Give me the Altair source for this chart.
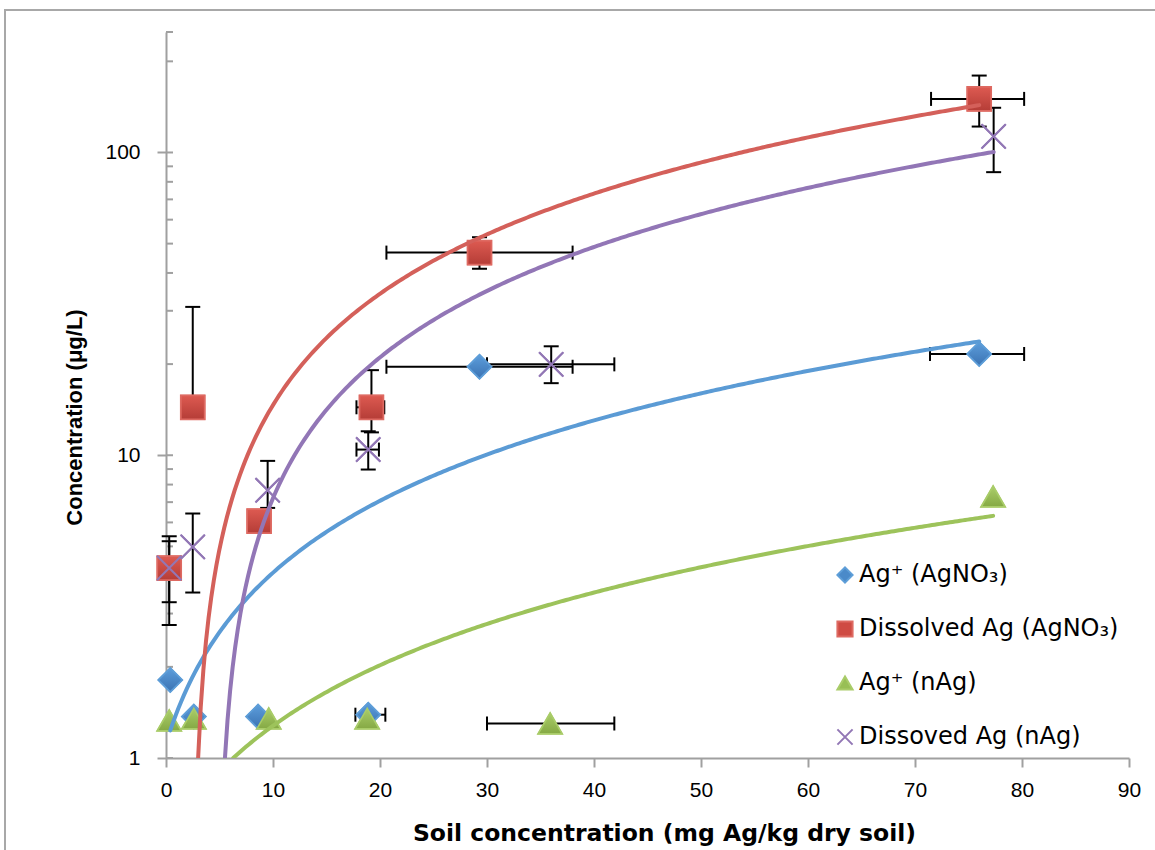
import altair as alt
import numpy as np
import pandas as pd

# ---------------- data ----------------
series_names = ["Ag⁺ (AgNO₃)", "Dissolved Ag (AgNO₃)", "Ag⁺ (nAg)", "Dissoved Ag (nAg)"]

# Ag+ (AgNO3)
blue_x = [0.4, 2.6, 8.6, 18.9, 29.3, 76.0]
blue_y = [1.81, 1.37, 1.37, 1.39, 19.6, 21.6]
blue_ylo = [None, None, None, None, None, None]
blue_yhi = [None, None, None, None, None, None]
blue_xlo = [None, None, None, 17.7, 20.6, 71.4]
blue_xhi = [None, None, None, 20.5, 38.0, 80.2]

# Dissolved Ag (AgNO3)
red_x = [0.3, 2.5, 8.7, 19.2, 29.3, 76.0]
red_y = [4.24, 14.4, 6.06, 14.4, 46.7, 150.3]
red_ylo = [3.27, None, 5.66, 11.9, 41.3, 121.8]
red_yhi = [5.2, 30.9, 6.46, 19.1, 52.5, 179.5]
red_xlo = [None, None, None, 17.8, 20.6, 71.5]
red_xhi = [None, None, None, 20.4, 38.0, 80.2]

# Ag+ (nAg)
green_x = [0.3, 2.6, 9.6, 18.8, 35.9, 77.3]
green_y = [1.33, 1.35, 1.35, 1.35, 1.30, 7.3]
green_ylo = [None, None, None, None, None, None]
green_yhi = [None, None, None, None, None, None]
green_xlo = [None, None, None, None, 30.0, None]
green_xhi = [None, None, None, None, 41.9, None]

# Dissoved Ag (nAg)
purple_x = [0.3, 2.5, 9.5, 18.9, 36.0, 77.35]
purple_y = [4.24, 4.98, 7.66, 10.44, 19.96, 113.0]
purple_ylo = [2.75, 3.52, 6.7, 8.97, 17.3, 86.1]
purple_yhi = [5.4, 6.42, 9.58, 12.0, 22.9, 140.5]
purple_xlo = [None, None, None, 17.8, 30.0, None]
purple_xhi = [None, None, None, 19.9, 41.9, None]

x_ticks = [0, 10, 20, 30, 40, 50, 60, 70, 80, 90]
y_major = [1, 10, 100]
y_minor = [1, 2, 3, 4, 5, 6, 7, 8, 9, 10, 20, 30, 40, 50, 60, 70, 80, 90, 100, 200, 250]

# ---------------- styles ----------------
fills = ["#4A8AC9", "#CF4B43", "#98BF55", "transparent"]
strokes = ["#5E9ED8", "#DE6A62", "#A9CC69", "#9277B5"]
grad_top = ["#5C9DDB", "#DD5A51", "#AACD6A", None]
grad_bot = ["#3B73B3", "#B53D37", "#85A944", None]
line_colors = ["#5B9BD5", "#D4605A", "#9DC35B", "#9276B6"]
shapes = ["diamond", "square", "triangle-up", "M-1,-1L1,1M1,-1L-1,1"]

all_series = [
    (blue_x, blue_y, blue_ylo, blue_yhi, blue_xlo, blue_xhi),
    (red_x, red_y, red_ylo, red_yhi, red_xlo, red_xhi),
    (green_x, green_y, green_ylo, green_yhi, green_xlo, green_xhi),
    (purple_x, purple_y, purple_ylo, purple_yhi, purple_xlo, purple_xhi),
]

pts, vseg, hseg, hcap, vcap, trend = [], [], [], [], [], []
k = 0
for name, (xs, ys, ylo, yhi, xlo, xhi) in zip(series_names, all_series):
    for i in range(len(xs)):
        pts.append({"series": name, "x": xs[i], "y": ys[i], "k": k})
        k += 1
        if ylo[i] is not None or yhi[i] is not None:
            lo = ylo[i] if ylo[i] is not None else ys[i]
            hi = yhi[i] if yhi[i] is not None else ys[i]
            vseg.append({"x": xs[i], "y1": lo, "y2": hi})
            for v in (ylo[i], yhi[i]):
                if v is not None:
                    hcap.append({"x": xs[i], "y": v})
        if xlo[i] is not None or xhi[i] is not None:
            lo = xlo[i] if xlo[i] is not None else xs[i]
            hi = xhi[i] if xhi[i] is not None else xs[i]
            hseg.append({"y": ys[i], "x1": lo, "x2": hi})
            for v in (xlo[i], xhi[i]):
                if v is not None:
                    vcap.append({"x": v, "y": ys[i]})
    # linear least-squares trendline (as Excel), drawn over the data's x range
    m, c = np.polyfit(xs, ys, 1)
    x0, x1 = min(xs), max(xs)
    if m * x0 + c < 1:
        x0 = max(x0, (1 - c) / m)
    grid = np.linspace(x0, x1, 300)
    for gx in grid:
        trend.append({"series": name, "x": float(gx), "y": float(max(m * gx + c, 1.0))})

pts = pd.DataFrame(pts)
vseg = pd.DataFrame(vseg)
hseg = pd.DataFrame(hseg)
hcap = pd.DataFrame(hcap)
vcap = pd.DataFrame(vcap)
trend = pd.DataFrame(trend)

FONT = "Liberation Sans"
WIDE = "DejaVu Sans"
AXC = "#A0A0A0"

xscale = alt.Scale(domain=[0, 90], nice=False, zero=False)
yscale = alt.Scale(type="log", domain=[1, 250], nice=False)

x_axis = alt.Axis(
    values=x_ticks, title="Soil concentration (mg Ag/kg dry soil)", grid=False,
    labelFlush=False, labelFont=FONT, labelFontSize=21, labelColor="black",
    labelPadding=12, tickSize=9, tickWidth=2, tickColor=AXC,
    domainColor=AXC, domainWidth=2, titleFont=WIDE, titleFontSize=23.5,
    titleFontWeight="bold", titleColor="black", titlePadding=21, titleX=498,
)
y_axis = alt.Axis(
    values=y_major, format="d", title="Concentration (μg/L)", grid=False,
    labelFont=FONT, labelFontSize=21, labelColor="black", labelPadding=17,
    tickSize=9, tickWidth=2, tickColor=AXC, domainColor=AXC, domainWidth=2,
    titleFont=FONT, titleFontSize=22, titleFontWeight="bold", titleColor="black",
    titlePadding=18, titleY=385,
)

frame = alt.Chart(pd.DataFrame({"a": [0]})).mark_rect(
    fillOpacity=0, stroke="#A8A8A8", strokeWidth=2
).encode(x=alt.value(-161), x2=alt.value(1000), y=alt.value(-22), y2=alt.value(830))

minor = alt.Chart(pd.DataFrame({"v": y_minor})).mark_rule(color=AXC, strokeWidth=2).encode(
    y=alt.Y("v:Q", scale=yscale, axis=y_axis), x=alt.value(0), x2=alt.value(7)
)

yerr = alt.Chart(vseg).mark_rule(color="black", strokeWidth=2).encode(
    x=alt.X("x:Q", scale=xscale, axis=x_axis),
    y=alt.Y("y1:Q", scale=yscale, axis=y_axis),
    y2="y2:Q",
)
xerr = alt.Chart(hseg).mark_rule(color="black", strokeWidth=2).encode(
    x=alt.X("x1:Q", scale=xscale, axis=x_axis),
    x2="x2:Q",
    y=alt.Y("y:Q", scale=yscale, axis=y_axis),
)
hcaps = alt.Chart(hcap).mark_tick(color="black", orient="horizontal", size=15, thickness=2, opacity=1).encode(
    x=alt.X("x:Q", scale=xscale, axis=x_axis),
    y=alt.Y("y:Q", scale=yscale, axis=y_axis),
)
vcaps = alt.Chart(vcap).mark_tick(color="black", orient="vertical", size=14, thickness=2, opacity=1).encode(
    x=alt.X("x:Q", scale=xscale, axis=x_axis),
    y=alt.Y("y:Q", scale=yscale, axis=y_axis),
)

leg = alt.Legend(
    title=None, orient="none", legendX=667, legendY=531, padding=0,
    labelFont=WIDE, labelFontSize=24, labelColor="black", labelLimit=500,
    symbolSize=230, symbolStrokeWidth=2, rowPadding=30, labelOffset=2,
)

points = alt.Chart(pts).mark_point(filled=False, opacity=1, strokeWidth=2, size=560).encode(
    x=alt.X("x:Q", scale=xscale, axis=x_axis),
    y=alt.Y("y:Q", scale=yscale, axis=y_axis),
    shape=alt.Shape("series:N", scale=alt.Scale(domain=series_names, range=shapes), legend=leg),
    fill=alt.Fill("series:N", scale=alt.Scale(domain=series_names, range=fills), legend=leg),
    stroke=alt.Stroke("series:N", scale=alt.Scale(domain=series_names, range=strokes), legend=leg),
    order=alt.Order("k:Q"),
)

# shaded (gradient) marker overlays, drawn series by series in the same order
overlays = []
for j, name in enumerate(series_names):
    sub = pts[pts["series"] == name]
    if grad_top[j] is not None:
        grad = alt.LinearGradient(
            gradient="linear", x1=0, x2=0, y1=0, y2=1,
            stops=[alt.GradientStop(color=grad_top[j], offset=0),
                   alt.GradientStop(color=grad_bot[j], offset=1)],
        )
        mk = alt.Chart(sub).mark_point(
            shape=shapes[j], size=560, filled=True, fill=grad, stroke=strokes[j],
            strokeWidth=1.5, opacity=1,
        )
    else:
        mk = alt.Chart(sub).mark_point(
            shape=shapes[j], size=600, filled=False, stroke=strokes[j],
            strokeWidth=2, opacity=1,
        )
    overlays.append(mk.encode(
        x=alt.X("x:Q", scale=xscale, axis=x_axis),
        y=alt.Y("y:Q", scale=yscale, axis=y_axis),
    ))

lines = alt.Chart(trend).mark_line(strokeWidth=4, strokeCap="round", clip=True).encode(
    x=alt.X("x:Q", scale=xscale, axis=x_axis),
    y=alt.Y("y:Q", scale=yscale, axis=y_axis),
    color=alt.Color("series:N", scale=alt.Scale(domain=series_names, range=line_colors), legend=None),
)

chart = alt.layer(frame, minor, yerr, xerr, hcaps, vcaps, points, *overlays, lines).properties(
    width=963, height=726,
    autosize=alt.AutoSizeParams(type="none"),
    padding={"left": 166, "top": 32, "right": 26, "bottom": 92},
    background="white",
).configure_view(stroke="transparent")

chart.save("out.html", embed_options={"renderer": "svg", "actions": False})
